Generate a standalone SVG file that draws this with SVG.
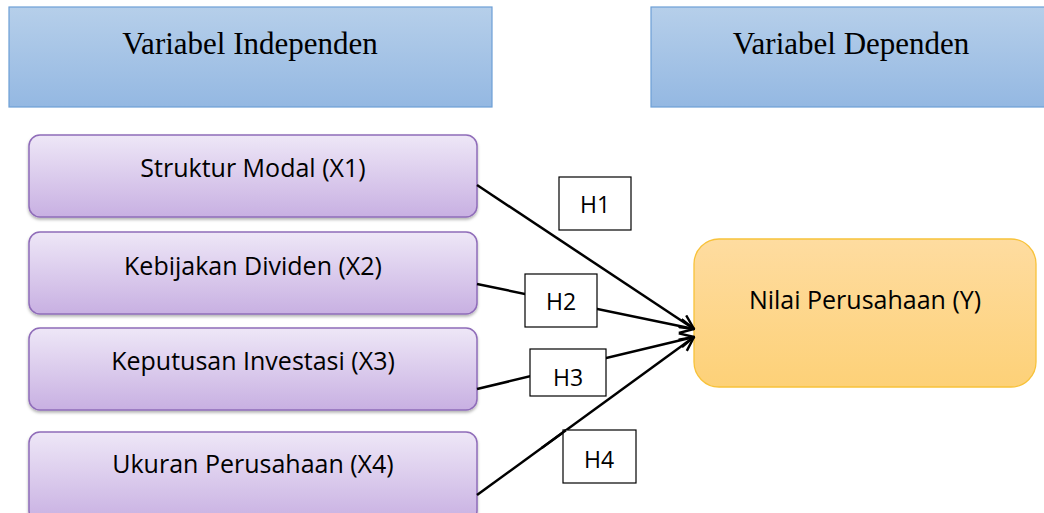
<svg xmlns="http://www.w3.org/2000/svg" width="1044" height="513" viewBox="0 0 1044 513">
<defs>
<linearGradient id="gBlue" x1="0" y1="0" x2="0" y2="1"><stop offset="0" stop-color="#b6cfea"/><stop offset="1" stop-color="#94b8e2"/></linearGradient>
<linearGradient id="gPurple" x1="0" y1="0" x2="0" y2="1"><stop offset="0" stop-color="#eee7f7"/><stop offset="1" stop-color="#c8b0e2"/></linearGradient>
<linearGradient id="gOrange" x1="0" y1="0" x2="0" y2="1"><stop offset="0" stop-color="#fedca0"/><stop offset="1" stop-color="#fdd178"/></linearGradient>
<filter id="sh" x="-5%" y="-10%" width="110%" height="130%"><feDropShadow dx="0" dy="2" stdDeviation="1.5" flood-color="#000" flood-opacity="0.3"/></filter>
<marker id="arr" viewBox="0 0 16 16" refX="15" refY="8" markerWidth="16" markerHeight="16" markerUnits="userSpaceOnUse" orient="auto"><path d="M1,1 L15,8 L1,15" fill="none" stroke="#000" stroke-width="2.4"/></marker>
</defs>
<style>
.hdr{fill:url(#gBlue);stroke:#6d9fd6;stroke-width:1.2}
.hdrt{font-family:"Liberation Serif",serif;font-size:31px;fill:#000;text-anchor:middle}
.ind{fill:url(#gPurple);stroke:#8f6cb9;stroke-width:1.5;filter:url(#sh)}
.t{font-family:"Open Sans","Liberation Sans",sans-serif;font-size:25px;fill:#000;text-anchor:middle}
.dep{fill:url(#gOrange);stroke:#f8c23a;stroke-width:1.3}
.hb{fill:#fff;stroke:#000;stroke-width:1.2}
.ht{font-family:"Open Sans","Liberation Sans",sans-serif;font-size:23px;fill:#000;text-anchor:middle}
.c{stroke:#000;stroke-width:2.5;fill:none}
</style>
<g id="hdr-ind"><rect class="hdr" x="9" y="7" width="483" height="100"/><text class="hdrt" x="250" y="54">Variabel Independen</text></g>
<g id="hdr-dep"><rect class="hdr" x="651" y="7" width="400" height="100"/><text class="hdrt" x="851" y="54">Variabel Dependen</text></g>
<g id="x1"><rect class="ind" x="29" y="135" width="448" height="82" rx="11"/><text class="t" x="253" y="177">Struktur Modal (X1)</text></g>
<g id="x2"><rect class="ind" x="29" y="232" width="448" height="82" rx="11"/><text class="t" x="253" y="275">Kebijakan Dividen (X2)</text></g>
<g id="x3"><rect class="ind" x="29" y="328" width="448" height="82" rx="11"/><text class="t" x="253" y="370">Keputusan Investasi (X3)</text></g>
<g id="x4"><rect class="ind" x="29" y="432" width="448" height="90" rx="11"/><text class="t" x="253" y="473">Ukuran Perusahaan (X4)</text></g>
<g id="y"><rect class="dep" x="694" y="239" width="342" height="148" rx="25"/><text class="t" x="865" y="309">Nilai Perusahaan (Y)</text></g>
<g id="connectors">
<line class="c" x1="477" y1="185" x2="694" y2="329" marker-end="url(#arr)"/>
<line class="c" x1="477" y1="284" x2="694" y2="329" marker-end="url(#arr)"/>
<line class="c" x1="477" y1="389" x2="694" y2="337" marker-end="url(#arr)"/>
<line class="c" x1="477" y1="495" x2="694" y2="337" marker-end="url(#arr)"/>
</g>
<g id="h1"><rect class="hb" x="559" y="177" width="72" height="53"/><text class="ht" x="595" y="213">H1</text></g>
<g id="h2"><rect class="hb" x="525" y="274" width="72" height="53"/><text class="ht" x="561" y="310">H2</text></g>
<g id="h3"><rect class="hb" x="530" y="349" width="76" height="47"/><text class="ht" x="568" y="386">H3</text></g>
<g id="h4"><rect class="hb" x="563" y="430" width="73" height="53"/><text class="ht" x="599" y="468">H4</text></g>
<line class="c" x1="477" y1="495" x2="694" y2="337" stroke-dasharray="0 80 30 400"/>
</svg>
